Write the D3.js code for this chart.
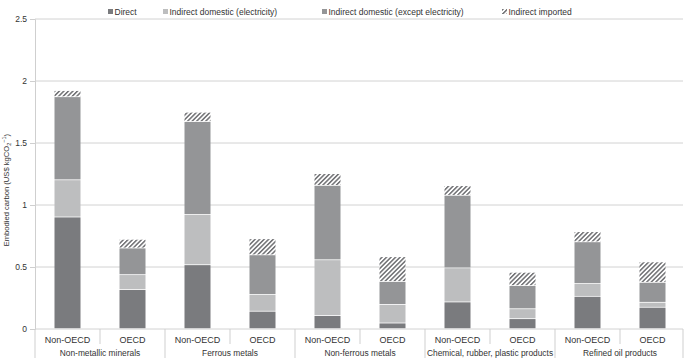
<!DOCTYPE html>
<html>
<head>
<meta charset="utf-8">
<script src="https://cdn.jsdelivr.net/npm/d3@7"></script>
<style>
  body { margin: 0; background: #fff; }
  text { font-family: "Liberation Sans", Arial, sans-serif; fill: #333; }
</style>
</head>
<body>
<div id="chart"></div>
<script>
const sectors = ["Non-metallic minerals", "Ferrous metals", "Non-ferrous metals",
                 "Chemical, rubber, plastic products", "Refined oil products"];
const regions = ["Non-OECD", "OECD"];
const seriesNames = ["Direct", "Indirect domestic (electricity)",
                     "Indirect domestic (except electricity)", "Indirect imported"];

// one value per bar, ordered sector by sector (Non-OECD, OECD)
const direct      = [0.90, 0.315, 0.515, 0.14, 0.105, 0.045, 0.215, 0.08, 0.26, 0.172];
const electricity = [0.30, 0.12, 0.405, 0.135, 0.45, 0.15, 0.275, 0.08, 0.103, 0.04];
const exceptElec  = [0.67, 0.215, 0.75, 0.32, 0.60, 0.185, 0.585, 0.187, 0.337, 0.161];
const imported    = [0.05, 0.07, 0.075, 0.13, 0.095, 0.20, 0.078, 0.107, 0.082, 0.165];
const yTicks = [0, 0.5, 1, 1.5, 2, 2.5];

const width = 685, height = 358;
const margin = {top: 19, right: 0, bottom: 29, left: 35};

const svg = d3.select("#chart").append("svg")
  .attr("width", width)
  .attr("height", height);

const defs = svg.append("defs");
const pat = defs.append("pattern")
  .attr("id", "hatch")
  .attr("patternUnits", "userSpaceOnUse")
  .attr("width", 3.2).attr("height", 3.2)
  .attr("patternTransform", "rotate(45)");
pat.append("rect").attr("width", 3.2).attr("height", 3.2).attr("fill", "#fff");
pat.append("rect").attr("width", 1.5).attr("height", 3.2).attr("fill", "#6f7073");

const colors = ["#7a7b7e", "#bdbebf", "#949597", "url(#hatch)"];

const bars = [];
sectors.forEach((s, i) => regions.forEach((r, j) => {
  const k = i * 2 + j;
  bars.push({key: s + "|" + r, sector: s, region: r,
    s0: direct[k], s1: electricity[k], s2: exceptElec[k], s3: imported[k]});
}));

const x = d3.scaleBand()
  .domain(bars.map(d => d.key))
  .range([margin.left, width - margin.right])
  .paddingInner(0.6).paddingOuter(0.3);

const y = d3.scaleLinear()
  .domain([0, 2.5])
  .range([height - margin.bottom, margin.top]);

// grid + y axis
svg.append("g")
  .attr("transform", `translate(${margin.left},0)`)
  .call(d3.axisLeft(y).tickValues(yTicks).tickFormat(d3.format("")).tickSize(5).tickPadding(3))
  .call(g => g.select(".domain").attr("stroke", "#cfcfcf"))
  .call(g => g.selectAll(".tick line").attr("stroke", "#cfcfcf"))
  .call(g => g.selectAll(".tick text").attr("font-size", 8.5).attr("fill", "#333")
    .attr("font-family", "Liberation Sans, Arial, sans-serif"));

svg.append("g")
  .selectAll("line")
  .data(yTicks)
  .join("line")
  .attr("x1", margin.left).attr("x2", width - 2)
  .attr("y1", d => y(d)).attr("y2", d => y(d))
  .attr("stroke", "#d2d2d2");

svg.append("text")
  .attr("transform", `translate(9,${y(1.12)}) rotate(-90)`)
  .attr("text-anchor", "middle")
  .attr("font-size", 7.6)
  .html('Embodied carbon (US$ kgCO<tspan font-size="5.5" dy="2">2</tspan><tspan font-size="5.5" dy="-5">−1</tspan><tspan dy="3">)</tspan>');

// stacked bars
const stack = d3.stack().keys(["s0", "s1", "s2", "s3"]);
const layers = stack(bars);

svg.append("g")
  .selectAll("g")
  .data(layers)
  .join("g")
  .attr("fill", (d, i) => colors[i])
  .selectAll("rect")
  .data(d => d)
  .join("rect")
  .attr("x", d => x(d.data.key))
  .attr("width", x.bandwidth())
  .attr("y", d => y(d[1]))
  .attr("height", d => Math.max(0, y(d[0]) - y(d[1]) - 0.8));

// bottom category axis
const base = y(0);
const step = x.step();
const bottom = svg.append("g");
bars.forEach((d, k) => {
  const xl = x(d.key) - x.paddingInner() * step / 2;
  const isGroupStart = k % 2 === 0;
  bottom.append("line")
    .attr("x1", xl).attr("x2", xl)
    .attr("y1", base).attr("y2", isGroupStart ? height : base + 15)
    .attr("stroke", "#cfcfcf");
});
bottom.append("line")
  .attr("x1", width - 2).attr("x2", width - 2)
  .attr("y1", base).attr("y2", height)
  .attr("stroke", "#cfcfcf");

bottom.selectAll("text.region")
  .data(bars)
  .join("text")
  .attr("class", "region")
  .attr("x", d => x(d.key) + x.bandwidth() / 2)
  .attr("y", base + 13.5)
  .attr("text-anchor", "middle")
  .attr("font-size", 9)
  .text(d => d.region);

bottom.selectAll("text.sector")
  .data(sectors)
  .join("text")
  .attr("class", "sector")
  .attr("x", (d, i) => (x(bars[i * 2].key) + x(bars[i * 2 + 1].key) + x.bandwidth()) / 2)
  .attr("y", base + 27)
  .attr("text-anchor", "middle")
  .attr("font-size", 8.4)
  .text(d => d);

// legend
const legendX = [108, 163, 322, 502];
const legend = svg.append("g")
  .selectAll("g")
  .data(seriesNames)
  .join("g")
  .attr("transform", (d, i) => `translate(${legendX[i]},9)`);
legend.append("rect")
  .attr("width", 5).attr("height", 5)
  .attr("fill", (d, i) => colors[i]);
legend.append("text")
  .attr("x", 6.5).attr("y", 5.5)
  .attr("font-size", 8.5)
  .text(d => d);
</script>
</body>
</html>
